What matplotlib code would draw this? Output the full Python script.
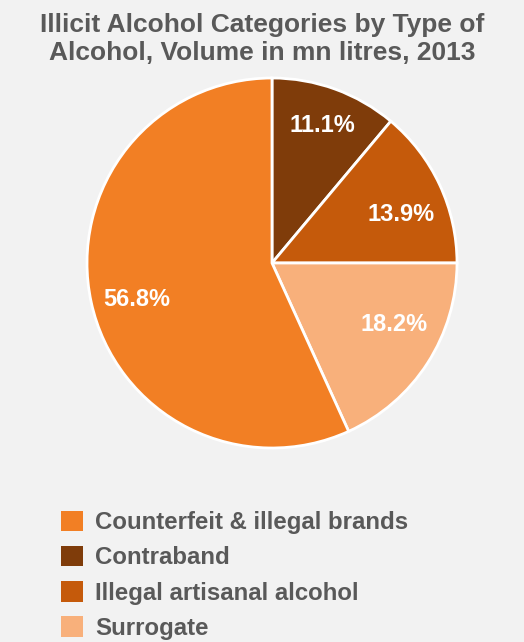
import matplotlib
matplotlib.use("Agg")
import numpy as np
import matplotlib.pyplot as plt
from matplotlib.patches import Patch

# Illicit alcohol volume shares, 2013 (percent)
categories = ["Contraband", "Illegal artisanal alcohol", "Surrogate",
              "Counterfeit & illegal brands"]
shares = [11.1, 13.9, 18.2, 56.8]
colors = ["#7F3C0A", "#C55A0B", "#F8B07B", "#F27F24"]
legend_order = ["Counterfeit & illegal brands", "Contraband",
                "Illegal artisanal alcohol", "Surrogate"]

# label placement inside each wedge: radial distance and angle nudge (deg)
label_dist = [0.79, 0.745, 0.74, 0.757]
label_turn = [0.0, -4.5, 6.0, 3.0]

BG = "#F2F2F2"
TXT = "#595959"
FONT = ["Liberation Sans", "DejaVu Sans"]

fig = plt.figure(figsize=(5.24, 6.42), dpi=100, facecolor=BG)

W, H = 524, 642
cx, cy, r = 272, 263, 185
lim = 1.02
ax = fig.add_axes([(cx - r * lim) / W, (H - cy - r * lim) / H,
                   2 * r * lim / W, 2 * r * lim / H])
ax.set_facecolor(BG)

wedges, _, autotexts = ax.pie(
    shares, colors=colors, startangle=90, counterclock=False,
    autopct="%.1f%%", pctdistance=0.75, radius=1,
    wedgeprops=dict(edgecolor="white", linewidth=2),
    textprops=dict(color="white", fontsize=17, fontweight="bold", family=FONT),
)
for w, t, d, turn in zip(wedges, autotexts, label_dist, label_turn):
    mid = np.deg2rad((w.theta1 + w.theta2) / 2 + turn)
    t.set_position((d * np.cos(mid), d * np.sin(mid)))

ax.set_xlim(-lim, lim)
ax.set_ylim(-lim, lim)
ax.set_aspect("equal")
ax.axis("off")

fig.text(0.5, 1 - 39 / H, "Illicit Alcohol Categories by Type of\nAlcohol, Volume in mn litres, 2013",
         ha="center", va="center", fontsize=19, fontweight="bold", color=TXT,
         family=FONT, linespacing=1.18)

handles = [Patch(facecolor=colors[categories.index(c)], edgecolor="none")
           for c in legend_order]
leg = fig.legend(handles, legend_order, loc="upper left",
                 bbox_to_anchor=(51 / W, 1 - 501 / H), frameon=False,
                 prop=dict(family=FONT, weight="bold", size=17.3),
                 handlelength=0.95, handleheight=0.95, handletextpad=0.5,
                 labelspacing=0.48, borderaxespad=0)
for t in leg.get_texts():
    t.set_color(TXT)

fig.savefig("out.png", dpi=100, facecolor=BG)
